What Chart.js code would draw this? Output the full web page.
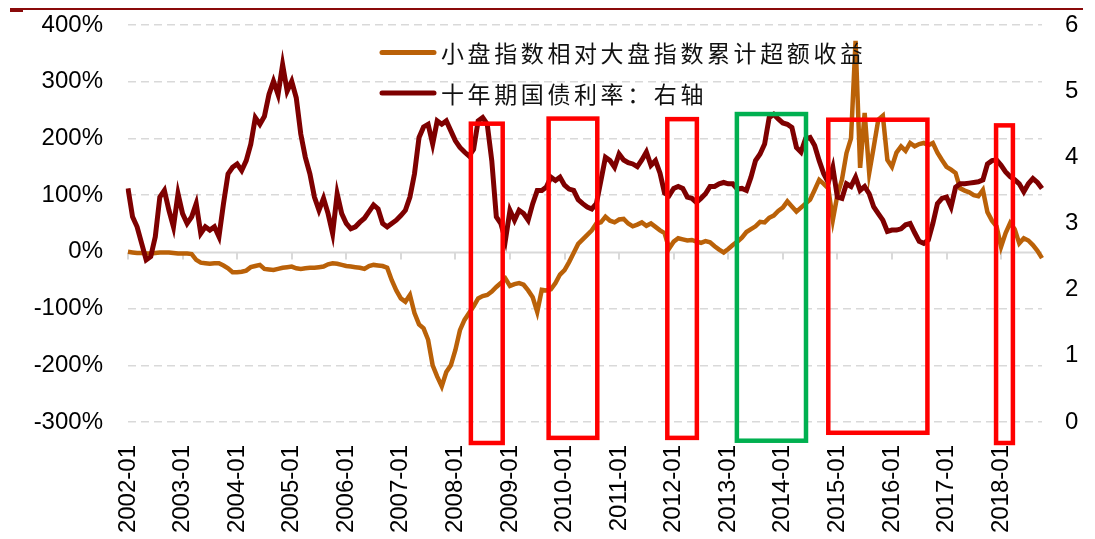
<!DOCTYPE html>
<html>
<head>
<meta charset="utf-8">
<script src="https://cdn.jsdelivr.net/npm/chart.js@4.4.1/dist/chart.umd.min.js"></script>
<style>
  html, body { margin: 0; padding: 0; background: #ffffff; }
  #wrap { width: 1095px; height: 539px; position: relative; }
</style>
</head>
<body>
<div id="wrap"><canvas id="chart" width="1095" height="539"></canvas></div>
<script>
// Monthly categories, 2002-01 .. 2018-10
const firstYear = 2002;
const monthCount = 202;
const months = [];
for (let i = 0; i < monthCount; i++) {
  const yr = firstYear + Math.floor(i / 12);
  const mo = (i % 12) + 1;
  months.push(yr + '-' + (mo < 10 ? '0' + mo : mo));
}

// 小盘指数相对大盘指数累计超额收益 (%), left axis
const excessReturn = [
  0, -1, -2, -2, -3, -3, -2, -1, -1, -1, -2, -3,
  -3, -3, -4, -14, -19, -20, -21, -20, -20, -24, -29, -36,
  -36, -35, -33, -27, -25, -23, -30, -31, -32, -30, -28, -27,
  -26, -29, -30, -29, -28, -28, -27, -26, -22, -20, -21, -23,
  -25, -26, -27, -28, -30, -25, -23, -24, -25, -28, -50, -68,
  -82, -88, -76, -108, -128, -135, -155, -200, -220, -237, -212, -200,
  -173, -138, -120, -108, -96, -82, -78, -76, -70, -62, -55, -47,
  -60, -57, -55, -58, -68, -80, -106, -67, -68, -66, -55, -40,
  -32, -18, -2, 14, 22, 30, 38, 50, 52, 62, 55, 52,
  57, 58, 50, 45, 48, 52, 46, 50, 44, 38, 33, 6,
  18, 24, 22, 20, 21, 18, 16, 19, 17, 10, 4, -1,
  5, 12, 18, 25, 35, 40, 45, 53, 52, 60, 64, 72,
  78, 89, 80, 71, 78, 85, 92, 109, 127, 120, 112, 56,
  100, 127, 174, 200, 372, 148, 245, 139, 185, 233, 240, 162,
  150, 175, 186, 178, 192, 186, 190, 192, 188, 192, 175, 162,
  150, 145, 139, 112, 108, 105, 100, 98, 109, 70, 55, 45,
  9, 33, 51, 40, 15, 24, 20, 12, 2, -11
];

// 十年期国债利率 (%), right axis
const bondYield = [
  3.53, 3.1, 2.95, 2.7, 2.45, 2.5, 2.8, 3.4, 3.5, 3.2, 2.95, 3.45,
  3.15, 3.0, 3.1, 3.3, 2.85, 2.95, 2.9, 2.95, 2.8, 3.3, 3.75, 3.85,
  3.9, 3.8, 3.95, 4.2, 4.6, 4.5, 4.62, 4.95, 5.15, 4.95, 5.4, 5.0,
  5.15, 4.9, 4.35, 4.0, 3.75, 3.4, 3.2, 3.38, 3.15, 2.85, 3.45, 3.15,
  3.0, 2.92, 2.95, 3.02, 3.08, 3.18, 3.28, 3.22, 3.0, 2.95, 3.0, 3.05,
  3.12, 3.2, 3.4, 3.75, 4.3, 4.46, 4.5, 4.2, 4.55, 4.5, 4.55, 4.4,
  4.25, 4.15, 4.08, 4.02, 4.12, 4.55, 4.6, 4.5, 3.95, 3.1, 3.0, 2.75,
  3.2, 3.05, 3.2, 3.15, 3.05, 3.3, 3.5, 3.5, 3.55, 3.7, 3.65, 3.7,
  3.58, 3.52, 3.5, 3.36, 3.3, 3.25, 3.22, 3.3, 3.65, 4.0, 3.95, 3.85,
  4.05, 3.96, 3.92, 3.9, 3.86, 3.96, 4.08, 3.88, 3.95, 3.76, 3.46, 3.42,
  3.53, 3.56, 3.53, 3.4, 3.38, 3.32, 3.38, 3.45, 3.56, 3.56, 3.6, 3.62,
  3.6, 3.6, 3.52, 3.53, 3.5, 3.7, 3.95, 4.05, 4.2, 4.6, 4.65, 4.58,
  4.52, 4.5, 4.45, 4.15, 4.08, 4.28, 4.3, 4.18, 3.95, 3.75, 3.62, 3.85,
  3.4, 3.38, 3.6, 3.56, 3.7, 3.5, 3.56, 3.45, 3.25, 3.15, 3.05, 2.88,
  2.9, 2.9, 2.92, 2.98, 3.0, 2.86, 2.73, 2.7, 2.75, 3.0, 3.3, 3.38,
  3.4, 3.25, 3.55, 3.6, 3.6, 3.61, 3.62, 3.63, 3.66, 3.9, 3.95, 3.96,
  3.88, 3.78, 3.71, 3.66, 3.6, 3.48, 3.6, 3.68, 3.62, 3.53
];

// Axis ranges
const leftRange = [-300, 400];
const rightRange = [0, 6];

// Highlighted periods (dates; vertical extent in left-axis %)
const periodStarts  = ['2008-04-13', '2009-09-16', '2011-11-19', '2013-02-28', '2014-11-01', '2017-11-28'];
const periodEnds    = ['2008-11-13', '2010-08-07', '2012-06-04', '2014-06-04', '2016-08-25', '2018-03-19'];
const periodTops    = [226, 235, 234, 243, 233, 223];
const periodBottoms = [-337, -328, -328, -333, -319, -337];
const periodKinds   = ['yieldDown', 'yieldDown', 'yieldDown', 'yieldUp', 'yieldDown', 'yieldDown'];

const ORANGE = '#BA6108';
const DARKRED = '#7E0000';
const kindColor = { yieldDown: '#FF0000', yieldUp: '#00B050' };
const tickFont = { family: '"Liberation Sans", Arial, sans-serif', size: 24 };

function dateToIndex(s) {
  const [y, m, d] = s.split('-').map(Number);
  return (y - firstYear) * 12 + (m - 1) + (d - 1) / 30;
}

// vertical axes: fixed width, no extra label padding above/below the plot
function fixVertical(width) {
  return s => {
    s.width = width;
    s.paddingTop = 0;
    s.paddingBottom = 0;
  };
}

const decorations = {
  id: 'decorations',
  beforeDatasetsDraw(chart) {
    const { ctx, chartArea, scales } = chart;
    const y0 = Math.round(scales.y.getPixelForValue(0)) + 0.5;
    ctx.save();
    ctx.strokeStyle = '#d9d9d9';
    ctx.lineWidth = 2;
    ctx.beginPath();
    ctx.moveTo(chartArea.left, y0);
    ctx.lineTo(chartArea.right, y0);
    months.forEach((m, i) => {
      if (m.endsWith('-01')) {
        const px = Math.round(scales.x.getPixelForValue(i));
        ctx.moveTo(px, y0);
        ctx.lineTo(px, y0 + 7);
      }
    });
    ctx.stroke();
    ctx.restore();
  },
  afterDatasetsDraw(chart) {
    const { ctx, scales } = chart;
    ctx.save();
    ctx.lineWidth = 4.5;
    ctx.lineJoin = 'miter';
    periodStarts.forEach((s, i) => {
      const x1 = scales.x.getPixelForValue(dateToIndex(s));
      const x2 = scales.x.getPixelForValue(dateToIndex(periodEnds[i]));
      const y1 = scales.y.getPixelForValue(periodTops[i]);
      const y2 = scales.y.getPixelForValue(periodBottoms[i]);
      ctx.strokeStyle = kindColor[periodKinds[i]];
      ctx.strokeRect(x1, y1, x2 - x1, y2 - y1);
    });
    ctx.restore();

    // legend
    const rows = [0, 1].map(i => chart.data.datasets[i]);
    const rowY = [52.5, 93];
    ctx.save();
    ctx.font = '23px "Noto Sans CJK SC", sans-serif';
    ctx.textBaseline = 'middle';
    ctx.textAlign = 'left';
    if ('letterSpacing' in ctx) ctx.letterSpacing = '3.6px';
    rows.forEach((ds, i) => {
      ctx.strokeStyle = ds.borderColor;
      ctx.lineWidth = 5;
      ctx.lineCap = 'round';
      ctx.beginPath();
      ctx.moveTo(382, rowY[i]);
      ctx.lineTo(434, rowY[i]);
      ctx.stroke();
      ctx.fillStyle = '#111111';
      ctx.fillText(ds.label, 441, rowY[i] + 1);
    });
    ctx.restore();
  },
  afterDraw(chart) {
    const { ctx } = chart;
    ctx.save();
    ctx.strokeStyle = '#8A0A0A';
    ctx.lineWidth = 2;
    ctx.beginPath();
    ctx.moveTo(10, 9);
    ctx.lineTo(1083, 9);
    ctx.stroke();
    ctx.lineWidth = 3;
    ctx.beginPath();
    ctx.moveTo(10, 10.5);
    ctx.lineTo(23, 10.5);
    ctx.stroke();
    ctx.restore();
  }
};

new Chart(document.getElementById('chart'), {
  type: 'line',
  data: {
    labels: months,
    datasets: [
      {
        label: '小盘指数相对大盘指数累计超额收益',
        data: excessReturn,
        yAxisID: 'y',
        borderColor: ORANGE,
        backgroundColor: ORANGE,
        borderWidth: 4.5,
        pointRadius: 0,
        tension: 0,
        order: 1
      },
      {
        label: '十年期国债利率：右轴',
        data: bondYield,
        yAxisID: 'y1',
        borderColor: DARKRED,
        backgroundColor: DARKRED,
        borderWidth: 5,
        pointRadius: 0,
        tension: 0,
        order: 0
      }
    ]
  },
  options: {
    responsive: false,
    animation: false,
    devicePixelRatio: 1,
    events: [],
    layout: { padding: { top: 25, left: 0, right: 0, bottom: 0 } },
    plugins: {
      legend: { display: false },
      tooltip: { enabled: false }
    },
    scales: {
      x: {
        type: 'category',
        offset: false,
        grid: { display: false, drawTicks: false },
        border: { display: false },
        ticks: {
          autoSkip: false,
          minRotation: 90,
          maxRotation: 90,
          padding: 23,
          color: '#000000',
          font: tickFont,
          callback: (v, i) => (months[i].endsWith('-01') ? months[i] : null)
        },
        afterFit: s => { s.height = 117; }
      },
      y: {
        position: 'left',
        min: leftRange[0],
        max: leftRange[1],
        grid: {
          drawTicks: false,
          lineWidth: 1.5,
          color: c => (c.tick && c.tick.value === 0 ? 'rgba(0,0,0,0)' : '#d9d9d9')
        },
        border: { display: false, dash: [8, 5] },
        ticks: {
          stepSize: 100,
          padding: 25,
          color: '#000000',
          font: tickFont,
          callback: v => v + '%'
        },
        afterFit: fixVertical(128)
      },
      y1: {
        position: 'right',
        min: rightRange[0],
        max: rightRange[1],
        grid: { display: false, drawTicks: false },
        border: { display: false },
        ticks: {
          stepSize: 1,
          padding: 23,
          color: '#000000',
          font: tickFont
        },
        afterFit: fixVertical(53)
      }
    }
  },
  plugins: [decorations]
});
</script>
</body>
</html>
